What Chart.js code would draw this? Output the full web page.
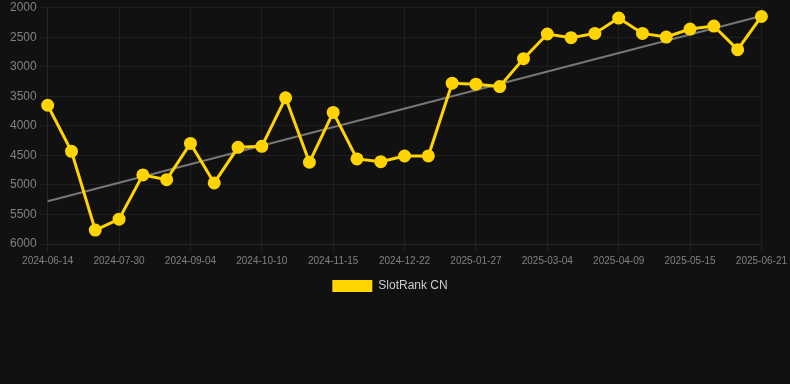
<!DOCTYPE html>
<html>
<head>
<meta charset="utf-8">
<script src="https://cdn.jsdelivr.net/npm/chart.js@4/dist/chart.umd.min.js"></script>
<style>
  html, body { margin: 0; padding: 0; background: #111111; }
  #wrap { position: relative; width: 790px; height: 302px; }
</style>
</head>
<body>
<div id="wrap"><canvas id="c"></canvas></div>
<script>
const dates = [
  "2024-06-14","2024-06-29","2024-07-14","2024-07-30","2024-08-11","2024-08-23",
  "2024-09-04","2024-09-16","2024-09-28","2024-10-10","2024-10-22","2024-11-03",
  "2024-11-15","2024-11-27","2024-12-10","2024-12-22","2025-01-03","2025-01-15",
  "2025-01-27","2025-02-08","2025-02-20","2025-03-04","2025-03-16","2025-03-28",
  "2025-04-09","2025-04-21","2025-05-03","2025-05-15","2025-05-27","2025-06-09",
  "2025-06-21"
];
const rankCN = [
  3650, 4430, 5765, 5580, 4830, 4910, 4296, 4966, 4363, 4346, 3525,
  4616, 3772, 4560, 4605, 4510, 4508, 3277, 3294, 3334, 2861, 2444,
  2506, 2434, 2174, 2434, 2495, 2360, 2309, 2709, 2147
];
const trendEnds = [5275, 2140];
const yTicks = { min: 2000, max: 6000, step: 500 };

const trend = dates.map((d, i) => i === 0 ? trendEnds[0] : (i === dates.length - 1 ? trendEnds[1] : null));

new Chart(document.getElementById('c'), {
  type: 'line',
  data: {
    labels: dates,
    datasets: [
      {
        label: 'SlotRank CN',
        data: rankCN,
        borderColor: '#FFD400',
        backgroundColor: '#FFD400',
        borderWidth: 3,
        pointRadius: 5,
        pointHoverRadius: 5,
        pointBackgroundColor: '#FFD400',
        pointBorderColor: '#FFD400',
        tension: 0,
        order: 1
      },
      {
        label: 'trend',
        data: trend,
        borderColor: '#777777',
        borderWidth: 2,
        pointRadius: 0,
        spanGaps: true,
        fill: false,
        order: 2
      }
    ]
  },
  options: {
    responsive: true,
    maintainAspectRatio: false,
    animation: false,
    layout: { autoPadding: false, padding: { left: 7, right: 17 } },
    plugins: {
      legend: {
        position: 'bottom',
        labels: {
          color: '#cccccc',
          font: { size: 12 },
          boxWidth: 40,
          boxHeight: 12,
          filter: (item) => item.text !== 'trend',
          generateLabels: (chart) => Chart.defaults.plugins.legend.labels.generateLabels(chart)
            .map(l => Object.assign(l, { lineWidth: 0 }))
        }
      },
      tooltip: { enabled: false }
    },
    scales: {
      x: {
        ticks: { color: '#808080', font: { size: 10 }, maxRotation: 0, autoSkip: true },
        grid: { color: '#1f1f1f' },
        border: { color: '#262626' }
      },
      y: {
        reverse: true,
        min: yTicks.min,
        max: yTicks.max,
        ticks: { stepSize: yTicks.step, color: '#808080', font: { size: 12, lineHeight: 0.8 }, callback: (v) => String(v) },
        grid: { color: '#1f1f1f' },
        border: { color: '#262626' }
      }
    }
  }
});
</script>
</body>
</html>
